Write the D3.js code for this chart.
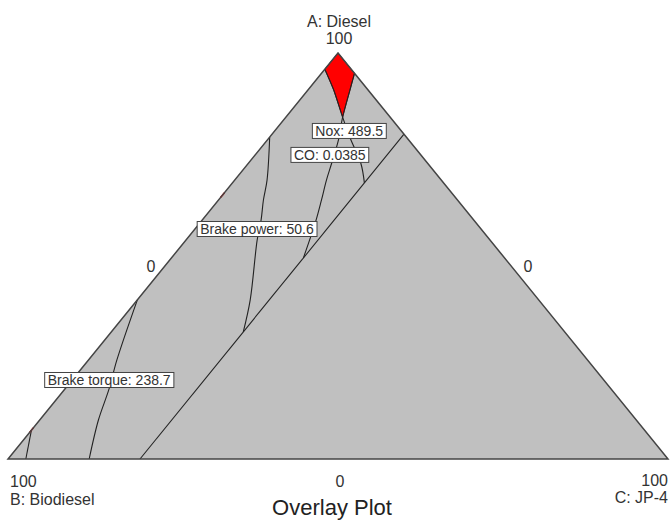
<!DOCTYPE html>
<html>
<head>
<meta charset="utf-8">
<script src="https://cdn.jsdelivr.net/npm/d3@7"></script>
<style>
  body { margin: 0; background: #fff; }
  svg { display: block; font-family: "Liberation Sans", Arial, sans-serif; }
</style>
</head>
<body>
<svg id="chart" width="670" height="521"></svg>
<script>
// mixture points as [A: Diesel, B: Biodiesel, C: JP-4] in percent
const vertexNames = ['A: Diesel', 'B: Biodiesel', 'C: JP-4'];
const constraintLine = [[0, 80, 20], [80, 0, 20]];
const noxContour = [[96, 4, 0], [90.9, 5.2, 3.9], [84.2, 7.2, 8.6], [78.8, 8.7, 12.5], [72.9, 10.1, 17.0], [68, 12, 20]];
const coContour = [[95, 0, 5], [91.4, 2.4, 6.2], [84.2, 7.2, 8.6], [78.8, 10.5, 10.7], [72.9, 14.5, 12.6], [68.7, 17.4, 13.9], [63.8, 20.6, 15.6], [58.4, 24.2, 17.4], [49.5, 30.5, 20]];
const powerContour = [[79.3, 20.7, 0], [68.7, 26.4, 4.9], [63.8, 29.4, 6.8], [58.9, 32.2, 8.9], [53.9, 35.3, 10.8], [39.2, 43.7, 17.1], [31.3, 48.7, 20]];
const torqueContour = [[39.2, 60.8, 0], [24.4, 71.3, 4.3], [17.2, 76.1, 6.7], [9.6, 81.5, 8.9], [0, 87.7, 12.3]];
const cornerContour = [[7.1, 92.9, 0], [0, 97.3, 2.7]];
const feasible = [[100, 0, 0], [96, 4, 0], [90.9, 5.2, 3.9], [84.2, 7.2, 8.6], [91.4, 2.4, 6.2], [95, 0, 5]];
const edgeMarks = [65, 7.1]; // red ticks on the B-A edge (A value)

// flag labels, centred at a mixture point
const contourLabels = [
  { text: 'Nox: 489.5', at: [80.8, 7.9, 11.3] },
  { text: 'CO: 0.0385', at: [74.9, 13.8, 11.3] },
  { text: 'Brake power: 50.6', at: [56.65, 33.95, 9.4] },
  { text: 'Brake torque: 238.7', at: [19.46, 74.94, 5.6] }
];

const svg = d3.select('#chart');
const xS = d3.scaleLinear().domain([0, 100]).range([8, 668]);
const yS = d3.scaleLinear().domain([0, 100]).range([459, 53]);
const pt = d => [xS(d[2] + d[0] / 2), yS(d[0])];

const corners = [[100, 0, 0], [0, 100, 0], [0, 0, 100]];

// triangle background
svg.append('polygon')
  .attr('points', corners.map(pt).map(p => p.join(',')).join(' '))
  .attr('fill', '#c0c0c0');

// feasible region
svg.append('polygon')
  .attr('points', feasible.map(pt).map(p => p.join(',')).join(' '))
  .attr('fill', '#ff0000')
  .attr('stroke', '#600')
  .attr('stroke-width', 0.8);

const curve = d3.line().x(d => pt(d)[0]).y(d => pt(d)[1]).curve(d3.curveCatmullRom);
const straight = d3.line().x(d => pt(d)[0]).y(d => pt(d)[1]);

[noxContour, coContour, powerContour, torqueContour].forEach(c => {
  svg.append('path').attr('d', curve(c))
    .attr('fill', 'none').attr('stroke', '#222').attr('stroke-width', 1.1);
});
[constraintLine, cornerContour].forEach(c => {
  svg.append('path').attr('d', straight(c))
    .attr('fill', 'none').attr('stroke', '#222').attr('stroke-width', 1.1);
});

// small red ticks on left edge
edgeMarks.forEach(a => {
  svg.append('path')
    .attr('d', straight([[a + 0.6, 100 - a - 0.6, 0], [a - 0.6, 100 - a + 0.6, 0]]))
    .attr('stroke', '#e00000').attr('stroke-width', 1.5);
});

// triangle outline
svg.append('polygon')
  .attr('points', corners.map(pt).map(p => p.join(',')).join(' '))
  .attr('fill', 'none')
  .attr('stroke', '#444')
  .attr('stroke-width', 1.5);

// contour labels
contourLabels.forEach(l => {
  const [x, y] = pt(l.at);
  const g = svg.append('g');
  const t = g.append('text')
    .attr('x', x).attr('y', y + 5)
    .attr('text-anchor', 'middle')
    .attr('font-size', 14)
    .attr('fill', '#333')
    .text(l.text);
  const bb = t.node().getBBox();
  g.insert('rect', 'text')
    .attr('x', bb.x - 3).attr('y', y - 7.5)
    .attr('width', bb.width + 6).attr('height', 15)
    .attr('fill', '#fff').attr('stroke', '#444').attr('stroke-width', 1);
});

// vertex and edge labels
const txt = (x, y, s, anchor, size) => svg.append('text')
  .attr('x', x).attr('y', y).attr('text-anchor', anchor)
  .attr('font-size', size || 16).attr('fill', '#333').text(s);

const apex = pt(corners[0]);
txt(apex[0] + 1, 27, vertexNames[0], 'middle');
txt(apex[0] + 1, 44, '100', 'middle');
txt(10, 487, '100', 'start');
txt(10, 505, vertexNames[1], 'start');
txt(668, 486, '100', 'end');
txt(668, 503, vertexNames[2], 'end');
txt(151, 272, '0', 'middle');
txt(528, 272, '0', 'middle');
txt(340, 487, '0', 'middle');
txt(332, 515, 'Overlay Plot', 'middle', 22).attr('fill', '#222');
</script>
</body>
</html>
